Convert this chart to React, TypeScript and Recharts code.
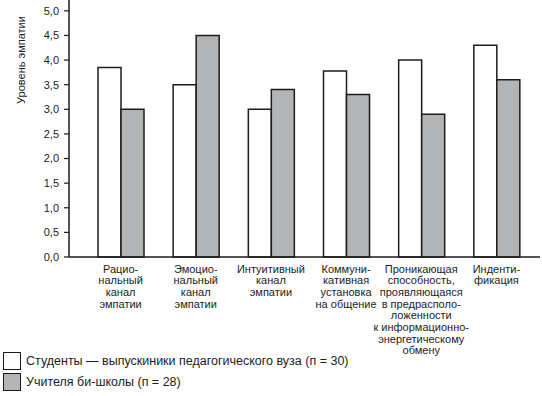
import { BarChart, Bar, XAxis, YAxis } from 'recharts';

// Категории (каналы эмпатии), переносы строк как на рисунке
const categories = [
  'Рацио-\nнальный\nканал\nэмпатии',
  'Эмоцио-\nнальный\nканал\nэмпатии',
  'Интуитивный\nканал\nэмпатии',
  'Коммуни-\nкативная\nустановка\nна общение',
  'Проникающая\nспособность,\nпроявляющаяся\nв предрасполо-\nложенности\nк информационно-\nэнергетическому\nобмену',
  'Инденти-\nфикация',
];

const students = [3.85, 3.5, 3.0, 3.78, 4.0, 4.3];
const teachers = [3.0, 4.5, 3.4, 3.3, 2.9, 3.6];

const yTicks = [0, 0.5, 1, 1.5, 2, 2.5, 3, 3.5, 4, 4.5, 5];

const seriesNames = {
  students: 'Студенты — выпускиники педагогического вуза (п = 30)',
  teachers: 'Учителя би-школы (п = 28)',
};

const INK = '#1c1c1c';
const GREY = '#b3b4b6';
const FONT = '"Liberation Sans", Arial, sans-serif';

const data = categories.map((name, i) => ({
  name,
  students: students[i],
  teachers: teachers[i],
}));

function CategoryTick({ x, y, payload }: any) {
  const lines = String(payload.value).split('\n');
  return (
    <text x={x} y={y} textAnchor="middle" fontSize={11} fill={INK} fontFamily={FONT}>
      {lines.map((line, i) => (
        <tspan key={i} x={x} dy={i === 0 ? 7.5 : 11.7}>
          {line}
        </tspan>
      ))}
    </text>
  );
}

function LegendBox() {
  const items = [
    { fill: '#ffffff', label: seriesNames.students },
    { fill: GREY, label: seriesNames.teachers },
  ];
  return (
    <div
      style={{
        position: 'absolute',
        left: 3,
        top: 350,
        fontFamily: FONT,
        fontSize: 12.5,
        color: INK,
      }}
    >
      {items.map((it) => (
        <div key={it.label} style={{ display: 'flex', alignItems: 'center', height: 21, whiteSpace: 'nowrap' }}>
          <span
            style={{
              display: 'inline-block',
              width: 16,
              height: 16,
              background: it.fill,
              border: `1.5px solid ${INK}`,
              marginRight: 5,
            }}
          />
          {it.label}
        </div>
      ))}
    </div>
  );
}

export default function App() {
  return (
    <div style={{ position: 'absolute', left: 0, top: 0, width: 542, height: 396, background: '#fff' }}>
      <BarChart
        width={542}
        height={396}
        data={data}
        margin={{ top: 0, right: 2, left: 0, bottom: 0 }}
        barGap={0}
        barSize={23}
      >
        <XAxis
          dataKey="name"
          interval={0}
          tickLine={false}
          axisLine={{ stroke: INK, strokeWidth: 1.5 }}
          tick={<CategoryTick />}
          padding={{ left: 14, right: 6 }}
          height={139}
        />
        <YAxis
          domain={[0, 5.22]}
          ticks={yTicks}
          interval={0}
          width={69}
          tickSize={5}
          tickMargin={5}
          tickFormatter={(v: number) => v.toFixed(1).replace('.', ',')}
          tick={{ fontSize: 11, fill: INK, fontFamily: FONT }}
          tickLine={{ stroke: INK, strokeWidth: 1.2 }}
          axisLine={{ stroke: INK, strokeWidth: 1.5 }}
          label={() => (
            <text
              x={22}
              y={60}
              transform="rotate(-90 22 60)"
              textAnchor="middle"
              dominantBaseline="middle"
              fontSize={11}
              fill={INK}
              fontFamily={FONT}
            >
              Уровень эмпатии
            </text>
          )}
        />
        <Bar dataKey="students" fill="#ffffff" stroke={INK} strokeWidth={1.5} isAnimationActive={false} />
        <Bar dataKey="teachers" fill={GREY} stroke={INK} strokeWidth={1.5} isAnimationActive={false} />
      </BarChart>
      <LegendBox />
    </div>
  );
}
